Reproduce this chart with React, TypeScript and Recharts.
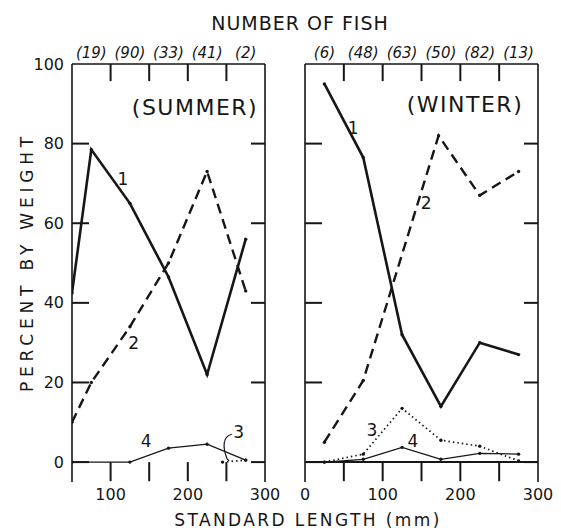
import React from 'react';
import { LineChart, Line, XAxis, YAxis, ReferenceDot, ReferenceLine } from 'recharts';

const INK = '#161616';
const FONT = '"DejaVu Sans", "Liberation Sans", sans-serif';

// size classes (mid point, mm) and number of fish in each
const summerMids = [75, 125, 175, 225, 275];
const summerCounts = ['(19)', '(90)', '(33)', '(41)', '(2)'];
const winterMids = [25, 75, 125, 175, 225, 275];
const winterCounts = ['(6)', '(48)', '(63)', '(50)', '(82)', '(13)'];

const yTicks = [0, 20, 40, 60, 80, 100];

// summer, percent by weight
const summerLen1 = [50, 75, 125, 175, 225, 275];
const summerPct1 = [42.5, 78.5, 65, 46.5, 22, 56];
const summerLen2 = [50, 75, 125, 175, 225, 275];
const summerPct2 = [10, 20, 34, 50, 73, 43];
const summerLen3 = [245, 275];
const summerPct3 = [0, 0.5];
const summerLen4 = [50, 125, 175, 225, 275];
const summerPct4 = [0, 0, 3.5, 4.5, 0.5];

// winter, percent by weight
const winterLen1 = [25, 75, 125, 175, 225, 275];
const winterPct1 = [95, 76.5, 32, 14, 30, 27];
const winterLen2 = [25, 75, 172, 225, 275];
const winterPct2 = [5, 20.5, 82, 67, 73];
const winterLen3 = [25, 75, 125, 175, 225, 275];
const winterPct3 = [0, 2, 13.5, 5.5, 4, 0.3];
const winterLen4 = [25, 75, 125, 175, 225, 275];
const winterPct4 = [0, 0.7, 3.7, 0.7, 2.2, 2];

const toPts = (xs: number[], ys: number[]) => xs.map((x, i) => ({ x, y: ys[i] }));

const lineStyle: Record<string, any> = {
  '1': { strokeWidth: 2.6 },
  '2': { strokeWidth: 2.4, strokeDasharray: '10 6' },
  '3': { strokeWidth: 1.7, strokeDasharray: '1.5 3' },
  '4': { strokeWidth: 1.3 },
};

const summerLines = [
  { id: '1', data: toPts(summerLen1, summerPct1) },
  { id: '2', data: toPts(summerLen2, summerPct2) },
  { id: '3', data: toPts(summerLen3, summerPct3) },
  { id: '4', data: toPts(summerLen4, summerPct4) },
];
const winterLines = [
  { id: '1', data: toPts(winterLen1, winterPct1) },
  { id: '2', data: toPts(winterLen2, winterPct2) },
  { id: '3', data: toPts(winterLen3, winterPct3) },
  { id: '4', data: toPts(winterLen4, winterPct4) },
];

// where the curve numbers sit (data coords)
const summerMarks = [
  { t: '1', x: 116, y: 71 },
  { t: '2', x: 130, y: 30 },
  { t: '4', x: 146, y: 5.2 },
  { t: '3', x: 266, y: 7.6 },
];
const winterMarks = [
  { t: '1', x: 62, y: 84 },
  { t: '2', x: 156, y: 65 },
  { t: '3', x: 86, y: 8 },
  { t: '4', x: 139, y: 5.2 },
];

const pointer = (p: any) => {
  const { x1, y1, x2, y2 } = p;
  return (
    <path
      d={`M${x1},${y1} C${x1 - 9},${y1 + 2} ${x2 - 5},${y2 - 12} ${x2},${y2} l2,2`}
      fill="none"
      stroke={INK}
      strokeWidth={1.2}
    />
  );
};

const TICK_W = 2;

// tick marks as straight paths
const tickShape = (p: any) => (
  <path d={`M${p.x1},${p.y1} L${p.x2},${p.y2}`} fill="none" stroke={INK} strokeWidth={TICK_W} />
);

function Panel(props: any) {
  const { left, width, margin, domain, mids, counts, yLabels, lines, marks, baseline, arrow } = props;
  const [lo, hi] = domain;
  const inner: number[] = [];
  for (let v = lo + 50; v < hi; v += 50) inner.push(v);
  const bottomTicks = [lo, ...inner, hi];
  const axisLine = { stroke: INK, strokeWidth: 1.6 };

  const bottomTick = (p: any) => {
    const v = p.payload.value;
    if (v % 100 !== 0) return <g />;
    return (
      <text x={p.x} y={p.y + 18} textAnchor="middle" fontSize={16} fontFamily={FONT} fill={INK}>
        {v}
      </text>
    );
  };

  const topTick = (p: any) => {
    const i = mids.indexOf(p.payload.value);
    return (
      <text x={p.x} y={p.y - 6} textAnchor="middle" fontSize={15} fontStyle="italic" fontFamily={FONT} fill={INK}>
        {counts[i]}
      </text>
    );
  };

  const leftTick = (p: any) => {
    const v = p.payload.value;
    return (
      <g>
        {v < 100 && (
          <path d={`M${p.x},${p.y} h17`} fill="none" stroke={INK} strokeWidth={TICK_W} />
        )}
        {yLabels && (
          <text x={p.x - 8} y={p.y} dy={5.5} textAnchor="end" fontSize={16} fontFamily={FONT} fill={INK}>
            {v}
          </text>
        )}
      </g>
    );
  };

  const rightTick = (p: any) => {
    const v = p.payload.value;
    if (v >= 100) return <g />;
    return <path d={`M${p.x},${p.y} h-14`} fill="none" stroke={INK} strokeWidth={TICK_W} />;
  };

  return (
    <div style={{ position: 'absolute', left, top: 0 }}>
      <LineChart width={width} height={532} margin={margin}>
        <XAxis xAxisId="b" type="number" dataKey="x" domain={domain} ticks={bottomTicks} interval={0}
          orientation="bottom" height={1} tickSize={0} tickMargin={0} axisLine={false} tickLine={false}
          tick={bottomTick} allowDataOverflow />
        <XAxis xAxisId="t" type="number" dataKey="x" domain={domain} ticks={mids} interval={0}
          orientation="top" height={1} tickSize={0} tickMargin={0} axisLine={axisLine} tickLine={false}
          tick={topTick} allowDataOverflow />
        <YAxis yAxisId="l" type="number" domain={[-5, 100]} ticks={yTicks} interval={0} width={1}
          tickSize={0} tickMargin={0} axisLine={axisLine} tickLine={false} tick={leftTick} allowDataOverflow />
        <YAxis yAxisId="r" orientation="right" type="number" domain={[-5, 100]} ticks={yTicks} interval={0}
          width={1} tickSize={0} tickMargin={0} axisLine={axisLine} tickLine={false} tick={rightTick}
          allowDataOverflow />
        {inner.map((v) => (
          <ReferenceLine key={`t${v}`} xAxisId="b" yAxisId="l" shape={tickShape}
            segment={[{ x: v, y: 100 }, { x: v, y: 95.7 }]} />
        ))}
        {inner.map((v) => (
          <ReferenceLine key={`b${v}`} xAxisId="b" yAxisId="l" shape={tickShape}
            segment={[{ x: v, y: 0 }, { x: v, y: -4.8 }]} />
        ))}
        {baseline && (
          <ReferenceLine xAxisId="b" yAxisId="l" shape={tickShape}
            segment={[{ x: lo, y: 0 }, { x: hi, y: 0 }]} />
        )}
        {lines.map((s: any) => (
          <Line
            key={s.id}
            xAxisId="b"
            yAxisId="l"
            data={s.data}
            dataKey="y"
            type="linear"
            stroke={INK}
            {...lineStyle[s.id]}
            dot={{ r: 1.7, fill: INK, stroke: 'none' }}
            activeDot={false}
            isAnimationActive={false}
          />
        ))}
        {arrow && (
          <ReferenceLine xAxisId="b" yAxisId="l" segment={arrow} shape={pointer} />
        )}
        {marks.map((m: any) => (
          <ReferenceDot
            key={m.t}
            xAxisId="b"
            yAxisId="l"
            x={m.x}
            y={m.y}
            r={0}
            shape={(p: any) => (
              <text x={p.cx} y={p.cy} dy={6} textAnchor="middle" fontSize={17} fontFamily={FONT} fill={INK}>
                {m.t}
              </text>
            )}
          />
        ))}
      </LineChart>
    </div>
  );
}

export default function App() {
  return (
    <div style={{ position: 'absolute', left: 0, top: 0, width: 561, height: 532, background: '#fff' }}>
      <svg width={561} height={532} style={{ position: 'absolute', left: 0, top: 0 }}>
        <text x={300} y={30} textAnchor="middle" fontSize={19} letterSpacing={1} fontFamily={FONT} fill={INK}>
          NUMBER OF FISH
        </text>
        <text transform="translate(33,262) rotate(-90)" textAnchor="middle" fontSize={17} letterSpacing={4.8}
          fontFamily={FONT} fill={INK}>
          PERCENT BY WEIGHT
        </text>
        <text x={308} y={526} textAnchor="middle" fontSize={17} letterSpacing={2.4} fontFamily={FONT} fill={INK}>
          STANDARD LENGTH (mm)
        </text>
        <text x={195} y={115} textAnchor="middle" fontSize={22} letterSpacing={1.5} fontFamily={FONT} fill={INK}>
          (SUMMER)
        </text>
        <text x={465} y={112} textAnchor="middle" fontSize={22} letterSpacing={1.5} fontFamily={FONT} fill={INK}>
          (WINTER)
        </text>
      </svg>
      <Panel
        left={0}
        width={280}
        margin={{ top: 63, left: 71, right: 14, bottom: 49 }}
        domain={[50, 300]}
        mids={summerMids}
        counts={summerCounts}
        yLabels
        lines={summerLines}
        marks={summerMarks}
        arrow={[{ x: 257, y: 7 }, { x: 251, y: 0.8 }]}
      />
      <Panel
        left={280}
        width={281}
        margin={{ top: 63, left: 24, right: 22, bottom: 49 }}
        domain={[0, 300]}
        mids={winterMids}
        counts={winterCounts}
        lines={winterLines}
        marks={winterMarks}
        baseline
      />
    </div>
  );
}
